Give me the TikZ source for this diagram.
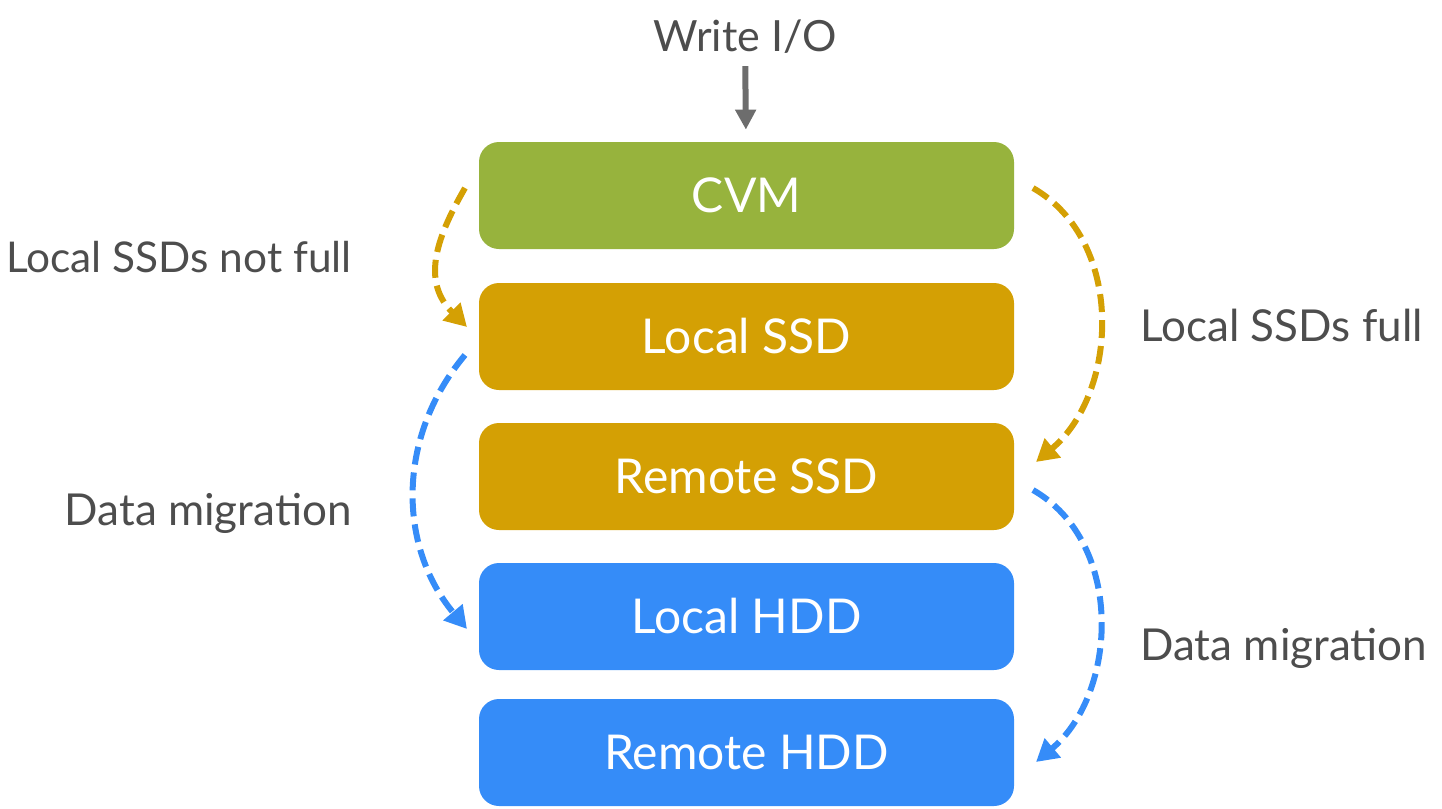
\documentclass[tikz,border=0pt]{standalone}
\usepackage{fontspec}
\setmainfont{Lato}
\usepackage{xcolor}
\usepackage{tikz}
\usetikzlibrary{positioning}
\usetikzlibrary{arrows.meta}
\pgfdeclarelayer{nodelayer}
\pgfdeclarelayer{edgelayer}
\pgfsetlayers{nodelayer,edgelayer,main}

\definecolor{cvmgreen}{HTML}{97B33D}
\definecolor{ssdgold}{HTML}{D4A004}
\definecolor{hddblue}{HTML}{358CF8}
\definecolor{labelgray}{HTML}{4D4D4D}
\definecolor{arrowgray}{HTML}{6D6D6D}

\tikzset{
  tier/.style={rectangle, rounded corners=10pt, inner sep=0pt,
    minimum width=267.5pt, minimum height=53.5pt, text=white,
    font=\fontsize{24}{28}\selectfont},
  caption/.style={text=labelgray, inner sep=0pt, font=\fontsize{22}{26}\selectfont},
  migrate/.style={line width=3pt, dash pattern=on 9pt off 4pt,
    -{Triangle[length=11pt,width=12pt]}},
}

\begin{document}
\begin{tikzpicture}[x=0.5pt, y=0.5pt]
  \useasboundingbox (0, 0) rectangle (1442, -809);
  \begin{pgfonlayer}{nodelayer}
    \node [caption, font=\fontsize{21.5}{26}\selectfont] (0) at (745, -37) {Write I/O};
    \node [tier, fill=cvmgreen] (1) at (746.5, -195.5) {CVM};
    \node [tier, fill=ssdgold] (2) at (746.5, -336.5) {Local SSD};
    \node [tier, fill=ssdgold] (3) at (746.5, -476.5) {Remote SSD};
    \node [tier, fill=hddblue] (4) at (746.5, -616.5) {Local HDD};
    \node [tier, fill=hddblue] (5) at (746.5, -752.5) {Remote HDD};
    \node [caption, anchor=east, font=\fontsize{21.2}{26}\selectfont] (6) at (352, -257) {Local SSDs not full};
    \node [caption, anchor=west] (7) at (1140, -325) {Local SSDs full};
    \node [caption, anchor=east] (8) at (352, -513) {Data migration};
    \node [caption, anchor=west] (9) at (1140, -648) {Data migration};
    \node [] (10) at (465, -188) {};
    \node [] (11) at (467, -327) {};
    \node [] (12) at (1033, -188) {};
    \node [] (13) at (1036, -462) {};
    \node [] (14) at (465, -355) {};
    \node [] (15) at (467, -629) {};
    \node [] (16) at (1033, -490) {};
    \node [] (17) at (1036, -762) {};
  \end{pgfonlayer}
  \begin{pgfonlayer}{edgelayer}
    \draw [arrowgray, line width=3pt, -{Triangle[length=10pt,width=10pt]}, shorten <=6pt, shorten >=6pt] (0) to (1);
    \draw [migrate, ssdgold, out=240, in=135, looseness=1.15] (10.center) to (11.center);
    \draw [migrate, ssdgold, out=-30, in=40] (12.center) to (13.center);
    \draw [migrate, hddblue, out=230, in=130] (14.center) to (15.center);
    \draw [migrate, hddblue, out=-30, in=40] (16.center) to (17.center);
  \end{pgfonlayer}
\end{tikzpicture}
\end{document}
